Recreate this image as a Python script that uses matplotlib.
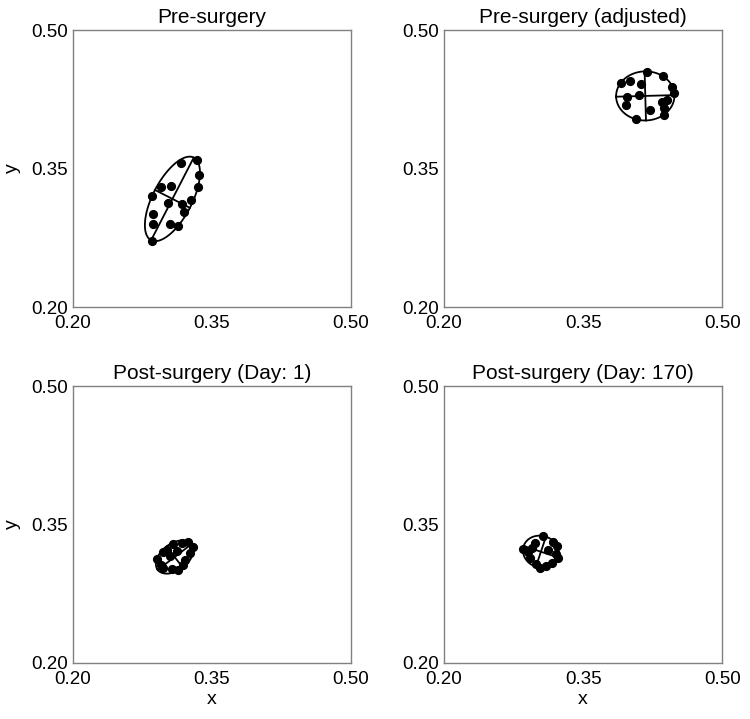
import numpy as np
import matplotlib.pyplot as plt

plt.rcParams['font.family'] = ['Liberation Sans', 'DejaVu Sans']

titles = ["Pre-surgery", "Pre-surgery (adjusted)",
          "Post-surgery (Day: 1)", "Post-surgery (Day: 170)"]

# points
pre_x = [0.3168, 0.3337, 0.3361, 0.3350, 0.3058, 0.2951, 0.2854, 0.3032,
         0.3182, 0.3272, 0.2861, 0.3200, 0.2868, 0.3047, 0.3139, 0.2854]
pre_y = [0.3559, 0.3592, 0.3429, 0.3300, 0.3312, 0.3301, 0.3200, 0.3127,
         0.3120, 0.3164, 0.3011, 0.3028, 0.2902, 0.2902, 0.2883, 0.2720]

adj_x = [0.3905, 0.4004, 0.4190, 0.4361, 0.4125, 0.4458, 0.4483, 0.4101,
         0.3969, 0.3958, 0.4404, 0.4350, 0.4369, 0.4226, 0.4369, 0.4065]
adj_y = [0.4429, 0.4446, 0.4544, 0.4501, 0.4421, 0.4385, 0.4320, 0.4301,
         0.4276, 0.4192, 0.4246, 0.4217, 0.4159, 0.4130, 0.4083, 0.4036]

day1_x = [0.2906, 0.2978, 0.3014, 0.3086, 0.3176, 0.3247, 0.3295, 0.3266,
          0.3212, 0.3187, 0.3140, 0.3068, 0.2978, 0.2950, 0.3122, 0.3050]
day1_y = [0.3126, 0.3197, 0.3226, 0.3290, 0.3304, 0.3315, 0.3261, 0.3190,
          0.3118, 0.3065, 0.3003, 0.3018, 0.3029, 0.3065, 0.3208, 0.3154]

day170_x = [0.3068, 0.2982, 0.3176, 0.3219, 0.2852, 0.2906, 0.2950, 0.3209,
            0.3230, 0.3165, 0.3101, 0.3036, 0.2993, 0.2928, 0.3122]
day170_y = [0.3376, 0.3301, 0.3312, 0.3269, 0.3237, 0.3204, 0.3247, 0.3183,
            0.3140, 0.3086, 0.3054, 0.3032, 0.3075, 0.3140, 0.3226]

panels = [(pre_x, pre_y), (adj_x, adj_y), (day1_x, day1_y), (day170_x, day170_y)]
ticks = [0.20, 0.35, 0.50]
tick_labels = ["0.20", "0.35", "0.50"]


def mvee(P, tol=1e-4, max_iter=3000):
    # minimum volume enclosing ellipse (Khachiyan)
    n, d = P.shape
    Q = np.vstack([P.T, np.ones(n)])
    u = np.ones(n) / n
    for _ in range(max_iter):
        X = Q @ np.diag(u) @ Q.T
        M = np.einsum("ij,ji->i", Q.T @ np.linalg.inv(X), Q)
        j = np.argmax(M)
        step = (M[j] - d - 1) / ((d + 1) * (M[j] - 1))
        new_u = (1 - step) * u
        new_u[j] += step
        err = np.linalg.norm(new_u - u)
        u = new_u
        if err < tol:
            break
    c = P.T @ u
    A = np.linalg.inv(P.T @ np.diag(u) @ P - np.outer(c, c)) / d
    return c, A


def draw_ellipse(ax, x, y):
    P = np.column_stack([x, y])
    m = P.mean(axis=0)
    s = P.std()
    c, A = mvee((P - m) / s)
    cx, cy = c * s + m
    vals, vecs = np.linalg.eigh(A)
    a = s / np.sqrt(vals[0])   # major
    b = s / np.sqrt(vals[1])   # minor
    u, v = vecs[:, 0], vecs[:, 1]
    t = np.linspace(0, 2 * np.pi, 200)
    ex = cx + a * np.cos(t) * u[0] + b * np.sin(t) * v[0]
    ey = cy + a * np.cos(t) * u[1] + b * np.sin(t) * v[1]
    ax.plot(ex, ey, color="black", lw=1.3)
    ax.plot([cx - a * u[0], cx + a * u[0]], [cy - a * u[1], cy + a * u[1]], color="black", lw=1.3)
    ax.plot([cx - b * v[0], cx + b * v[0]], [cy - b * v[1], cy + b * v[1]], color="black", lw=1.3)


fig = plt.figure(figsize=(7.5, 7.19), dpi=100)
lefts = [0.097, 0.592]
bottoms = [0.573, 0.078]
w, h = 0.371, 0.385

for i, (px, py) in enumerate(panels):
    row, col = divmod(i, 2)
    ax = fig.add_axes([lefts[col], bottoms[row], w, h])
    draw_ellipse(ax, px, py)
    ax.plot(px, py, "o", color="black", ms=5.6, ls="none")
    ax.set_xlim(0.2, 0.5)
    ax.set_ylim(0.2, 0.5)
    ax.set_xticks(ticks)
    ax.set_yticks(ticks)
    ax.set_xticklabels(tick_labels)
    ax.set_yticklabels(tick_labels)
    ax.tick_params(length=0, labelsize=13.5)
    ax.tick_params(axis="x", pad=6)
    ax.tick_params(axis="y", pad=3.5)
    for lab in ax.get_yticklabels():
        lab.set_va("center_baseline")
    for s in ax.spines.values():
        s.set_color("#808080")
        s.set_linewidth(1.0)
    ax.set_title(titles[i], fontsize=15, pad=5)
    if col == 0:
        ax.set_ylabel("y", fontsize=14)
        ax.yaxis.set_label_coords(-0.186, 0.5)
    if row == 1:
        ax.set_xlabel("x", fontsize=14, labelpad=2)

fig.savefig("out.png", dpi=100)
